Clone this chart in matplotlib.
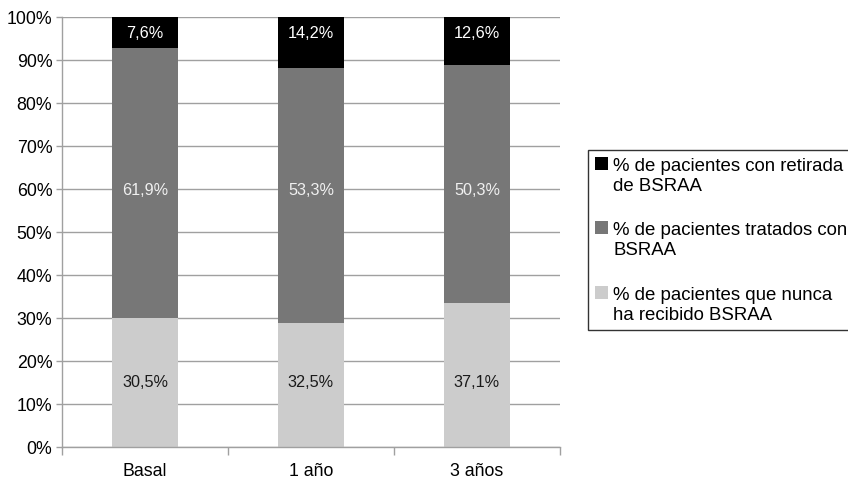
import matplotlib
matplotlib.use("Agg")
import matplotlib.pyplot as plt
from matplotlib.ticker import FixedLocator, PercentFormatter

plt.rcParams["font.family"] = ["Liberation Sans", "DejaVu Sans"]

categories = ["Basal", "1 año", "3 años"]
# bar heights as drawn (percent)
nunca = [30.0, 28.7, 33.3]
tratados = [62.6, 59.4, 55.4]
retirada = [7.4, 11.9, 11.3]
# printed labels
lbl_nunca = ["30,5%", "32,5%", "37,1%"]
lbl_tratados = ["61,9%", "53,3%", "50,3%"]
lbl_retirada = ["7,6%", "14,2%", "12,6%"]
series_names = ["% de pacientes con retirada\nde BSRAA",
                "% de pacientes tratados con\nBSRAA",
                "% de pacientes que nunca\nha recibido BSRAA"]

grid_c = "#a0a0a0"
fig = plt.figure(figsize=(8.48, 4.81), dpi=100)
ax = fig.add_axes([62 / 848, 1 - 447.5 / 481, 498 / 848, 430 / 481])

x = range(len(categories))
w = 0.40
b1 = ax.bar(x, nunca, w, color="#cccccc", zorder=2)
b2 = ax.bar(x, tratados, w, bottom=nunca, color="#777777", zorder=2)
bottom3 = [a + b for a, b in zip(nunca, tratados)]
b3 = ax.bar(x, retirada, w, bottom=bottom3, color="#000000", zorder=2)

for i in x:
    ax.text(i, 96.3, lbl_retirada[i], color="white", ha="center", va="center", fontsize=11.7, zorder=3)
    ax.text(i, 59.8, lbl_tratados[i], color="#f0f0f0", ha="center", va="center", fontsize=11.7, zorder=3)
    ax.text(i, 15.1, lbl_nunca[i], color="#1a1a1a", ha="center", va="center", fontsize=11.7, zorder=3)

ax.set_xlim(-0.5, 2.5)
ax.set_ylim(0, 100)
ax.set_yticks(range(0, 101, 10))
ax.yaxis.set_major_formatter(PercentFormatter(decimals=0))
ax.yaxis.grid(True, color=grid_c, linewidth=1, zorder=0)
ax.xaxis.set_major_locator(FixedLocator([-0.5, 0.5, 1.5, 2.5]))
ax.xaxis.set_minor_locator(FixedLocator([0, 1, 2]))
ax.set_xticklabels([])
ax.set_xticklabels(categories, minor=True)
ax.tick_params(axis="x", which="major", length=6, color=grid_c, width=1)
ax.tick_params(axis="x", which="minor", length=0, pad=11, labelsize=12.8)
ax.tick_params(axis="y", length=4, color=grid_c, width=1, labelsize=12.8, pad=3)
for s in ["top", "right"]:
    ax.spines[s].set_visible(False)
for s in ["left", "bottom"]:
    ax.spines[s].set_color(grid_c)
    ax.spines[s].set_linewidth(1)

leg = fig.legend([b3, b2, b1], series_names, loc="upper left",
                 bbox_to_anchor=(588 / 848, 1 - 150.5 / 481), fontsize=13.4,
                 frameon=True, fancybox=False, edgecolor="black",
                 handlelength=0.7, handleheight=0.7, handletextpad=0.25,
                 labelspacing=1.5, borderpad=0.4, borderaxespad=0)
leg.get_frame().set_linewidth(1)
for col in leg._legend_handle_box.get_children():
    for item in col.get_children():
        item.align = "top"

fig.savefig("out.png", dpi=100)
